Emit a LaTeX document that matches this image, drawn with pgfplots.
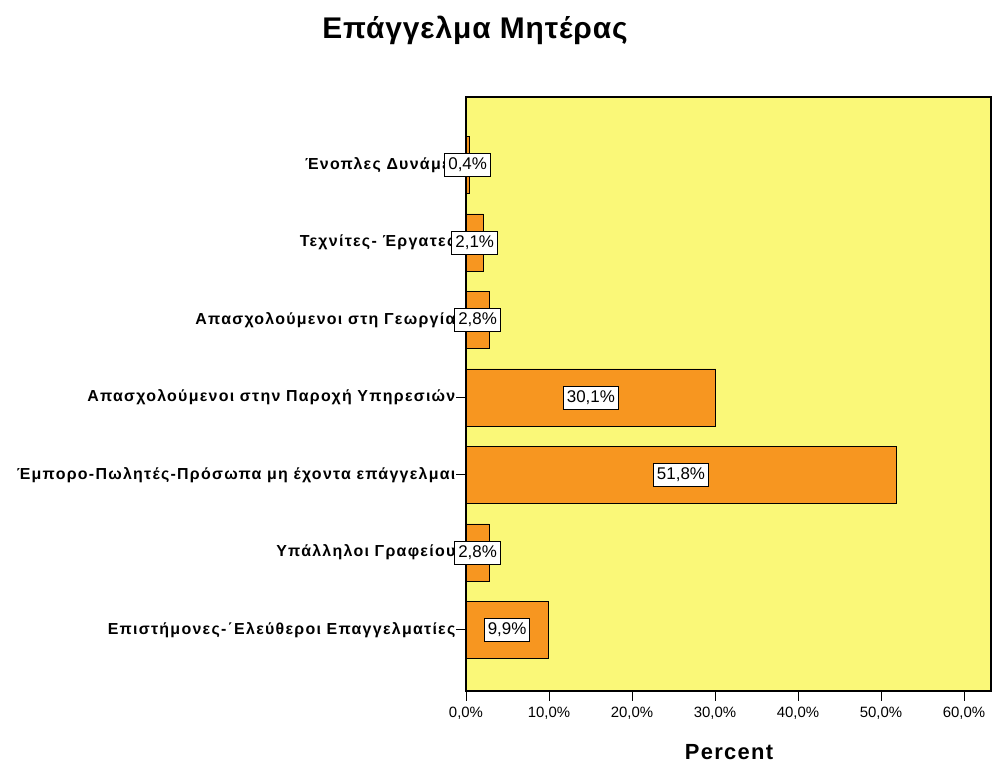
\documentclass[border=0pt]{standalone}
\usepackage{fontspec}
\setmainfont{Liberation Sans}
\usepackage{pgfplots}
\usepackage{pgfplotstable}
\pgfplotsset{compat=1.18}
\definecolor{bgyellow}{RGB}{250,248,120}
\definecolor{barorange}{RGB}{247,150,32}

\pgfplotstableread{
pos val
0 9.9
1 2.8
2 51.8
3 30.1
4 2.8
5 2.1
6 0.4
}\mytable

\begin{document}
\begin{tikzpicture}[x=1bp,y=1bp]
\path[use as bounding box] (0,0) rectangle (992,764);
\begin{axis}[
  at={(466bp,73bp)}, anchor=south west,
  scale only axis, width=525bp, height=594bp,
  xmin=0, xmax=63.25, ymin=-0.787, ymax=6.877,
  axis background/.style={fill=bgyellow},
  axis line style={line width=1.3bp},
  axis on top,
  clip=false,
  xtick={0,10,...,60}, ytick={0,...,6},
  yticklabels={Επιστήμονες-΄Ελεύθεροι Επαγγελματίες, Υπάλληλοι Γραφείου, Έμπορο-Πωλητές-Πρόσωπα μη έχοντα επάγγελμαι, Απασχολούμενοι στην Παροχή Υπηρεσιών, Απασχολούμενοι στη Γεωργία, Τεχνίτες- Έργατες, Ένοπλες Δυνάμει},
  xticklabel={\pgfmathprintnumber[fixed, fixed zerofill, precision=1, use comma, assume math mode=true]{\tick}\%},
  tick align=outside, xtick pos=bottom, ytick pos=left,
  major tick length=10bp,
  tick style={black, line width=1bp},
  yticklabel style={font=\bfseries\fontsize{16}{18}\selectfont\addfontfeatures{LetterSpace=8}, inner sep=0.5bp},
  xticklabel style={font=\fontsize{15}{17}\selectfont, yshift=-3bp},
]
\addplot[xbar, bar width=57bp, fill=barorange, draw=black, line width=0.8bp] table[x=val,y=pos]{\mytable};
\addplot[draw=none, mark=none, forget plot, x filter/.expression={x/2},
  point meta=explicit,
  nodes near coords={\pgfmathprintnumber[fixed, fixed zerofill, precision=1, use comma, assume math mode=true]{\pgfplotspointmeta}\%},
  every node near coord/.append style={anchor=center, fill=white, draw=black, line width=0.9bp, inner xsep=3.5bp, inner ysep=4.5bp, font=\fontsize{17}{19}\selectfont, text=black}]
  table[x=val,y=pos,meta=val]{\mytable};
\end{axis}
\node[font=\bfseries\fontsize{30}{32}\selectfont\addfontfeatures{LetterSpace=3}] at (475,734) {Επάγγελμα Μητέρας};
\node[font=\bfseries\fontsize{22}{24}\selectfont\addfontfeatures{LetterSpace=6}] at (729,12) {Percent};
\end{tikzpicture}
\end{document}
